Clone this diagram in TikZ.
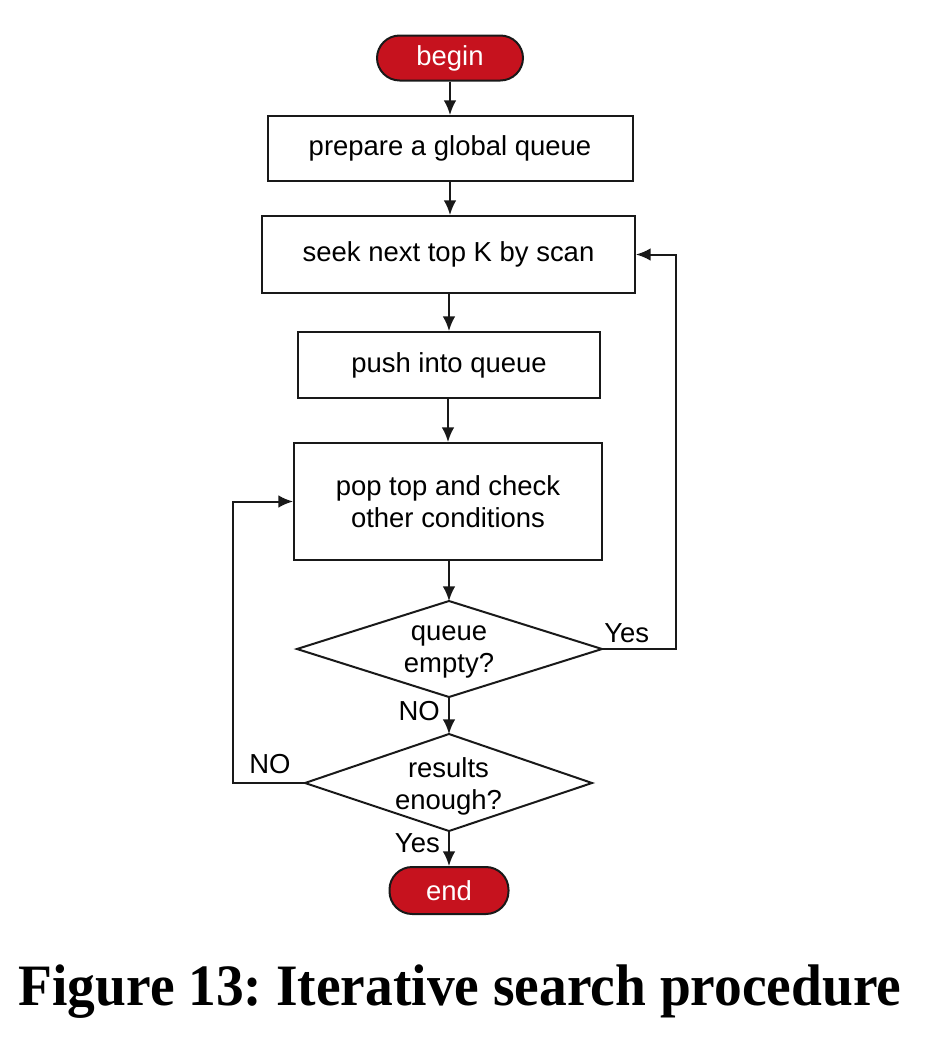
\documentclass[tikz,border=0pt]{standalone}
\usepackage{fontspec}
\setmainfont{Liberation Sans}
\newfontfamily\capfont{Liberation Serif}
\usetikzlibrary{arrows.meta}
\definecolor{termred}{RGB}{198,18,30}
\frenchspacing
\begin{document}
\begin{tikzpicture}[x=0.75pt,y=-0.75pt,
  every node/.style={font=\fontsize{20.6}{24}\selectfont, align=center, inner sep=0pt},
  box/.style={draw=black!90, line width=1.5pt, fill=white},
  term/.style={draw=black!90, line width=1.5pt, fill=termred, rounded corners=17pt, text=white},
  conn/.style={draw=black!90, line width=1.5pt, -{Latex[length=11pt,width=9.5pt]}},
  lbl/.style={font=\fontsize{20.6}{24}\selectfont}
]
\useasboundingbox (0,0) rectangle (928,1046);
\node[term, minimum width=146*0.75pt, minimum height=45*0.75pt] (begin) at (450,58) {\raisebox{-2pt}{begin}};
\node[box, minimum width=365*0.75pt, minimum height=65*0.75pt] (prep) at (450,148.5) {\raisebox{-2pt}{prepare a global queue}};
\node[box, minimum width=373*0.75pt, minimum height=77*0.75pt] (seek) at (448.5,254.5) {\raisebox{-2pt}{seek next top K by scan}};
\node[box, minimum width=302*0.75pt, minimum height=66*0.75pt] (push) at (449,365) {\raisebox{-2pt}{push into queue}};
\node[box, minimum width=308*0.75pt, minimum height=117*0.75pt] (pop) at (448,501.5) {pop top and check\\other conditions};
\coordinate (qeL) at (297,649);
\coordinate (qeR) at (602,649);
\coordinate (qeT) at (449,601);
\coordinate (qeB) at (449,697);
\draw[black!90, line width=1.5pt, fill=white] (qeL) -- (qeT) -- (qeR) -- (qeB) -- cycle;
\node (qet) at (449,652) {queue\\empty?};
\coordinate (reL) at (305,783);
\coordinate (reR) at (592,783);
\coordinate (reT) at (449,734);
\coordinate (reB) at (449,831);
\draw[black!90, line width=1.5pt, fill=white] (reL) -- (reT) -- (reR) -- (reB) -- cycle;
\node (ret) at (448.5,786) {results\\enough?};
\node[term, minimum width=119*0.75pt, minimum height=47*0.75pt] (end) at (449,890.5) {\raisebox{-2pt}{end}};
\draw[conn] (begin) -- (prep);
\draw[conn] (prep) -- (prep |- seek.north);
\draw[conn] (seek.south -| push) -- (push);
\draw[conn] (push.south -| pop) -- (pop);
\draw[conn] (pop.south -| qeT) -- (qeT);
\draw[conn] (qeB) -- (reT);
\draw[conn] (reB) -- (end);
\coordinate (rx) at (676,649);
\draw[conn] (qeR) -- (rx) |- (seek.east);
\coordinate (lx) at (233,783);
\draw[conn] (reL) -- (lx) |- (pop.west);
\node[lbl, anchor=south west] (yes1) at (604,643) {Yes};
\node[lbl, anchor=east] (no1) at (440,711) {NO};
\node[lbl, anchor=south] (no2) at (270,774) {NO};
\node[lbl, anchor=east] (yes2) at (440,843) {Yes};
\node[font=\capfont\bfseries\fontsize{44}{50}\selectfont] (cap) at (460,992) {\scalebox{0.945}[1]{Figure 13: Iterative search procedure}};
\end{tikzpicture}
\end{document}
